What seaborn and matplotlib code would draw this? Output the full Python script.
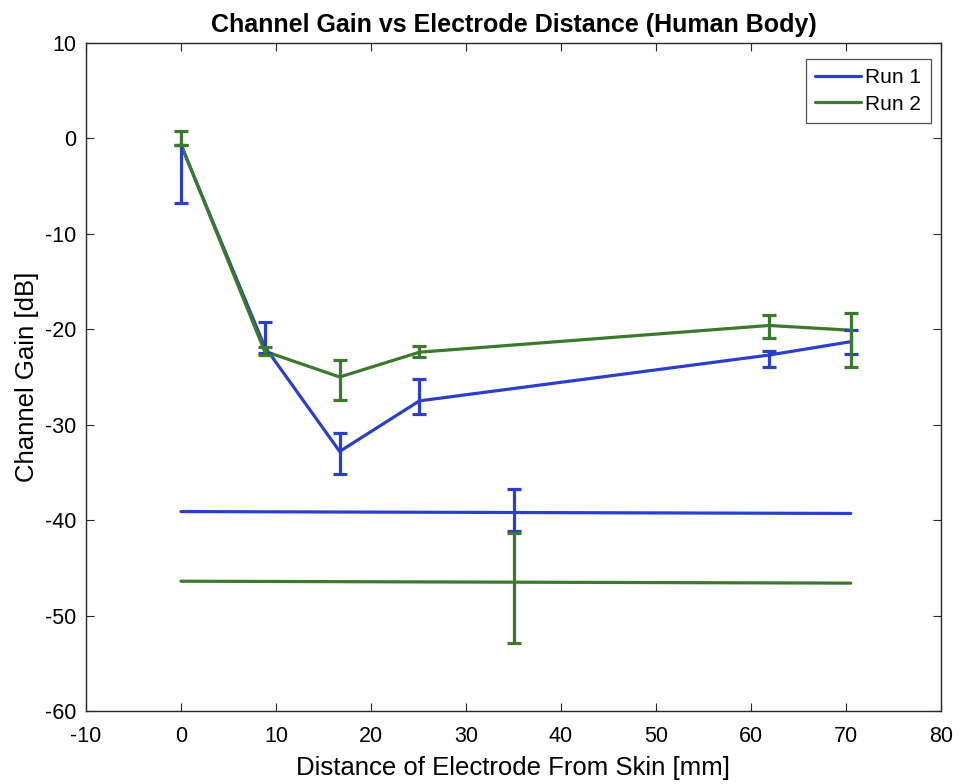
import matplotlib
matplotlib.use("Agg")
import matplotlib.pyplot as plt
import seaborn as sns
import numpy as np
import pandas as pd

# ---- data ----
distance = [0.0, 8.8, 16.7, 25.1, 61.9, 70.5]
run1_gain = [-0.7, -21.8, -32.8, -27.5, -22.7, -21.3]
run1_err_low = [6.1, 0.7, 2.4, 1.4, 1.3, 1.3]
run1_err_high = [0.0, 2.6, 1.9, 2.3, 0.4, 1.2]
run2_gain = [-0.6, -22.3, -25.0, -22.4, -19.6, -20.1]
run2_err_low = [0.1, 0.4, 2.4, 0.5, 1.3, 3.9]
run2_err_high = [1.4, 0.4, 1.8, 0.7, 1.1, 1.8]

baseline_x = [0.0, 35.1, 70.5]
baseline1 = [-39.1, -39.2, -39.3]
baseline2 = [-46.4, -46.5, -46.6]
baseline1_err_low = [0.0, 1.9, 0.0]
baseline1_err_high = [0.0, 2.5, 0.0]
baseline2_err_low = [0.0, 6.4, 0.0]
baseline2_err_high = [0.0, 5.2, 0.0]

title = "Channel Gain vs Electrode Distance (Human Body)"
xlabel = "Distance of Electrode From Skin [mm]"
ylabel = "Channel Gain [dB]"
labels = ["Run 1", "Run 2"]

blue = "#2C3FCC"
green = "#3B7A2C"

sns.set_theme(style="white")
plt.rcParams["font.family"] = ["Liberation Sans", "DejaVu Sans"]
plt.rcParams["axes.unicode_minus"] = False
plt.rcParams["text.color"] = "black"
plt.rcParams["axes.labelcolor"] = "black"

fig = plt.figure(figsize=(9.64, 7.84), dpi=100)
ax = fig.add_axes([86 / 964, 1 - 711 / 784, (941 - 86) / 964, (711 - 43) / 784])

df = pd.DataFrame({
    "x": distance * 2,
    "y": run1_gain + run2_gain,
    "run": [labels[0]] * len(distance) + [labels[1]] * len(distance),
})
sns.lineplot(data=df, x="x", y="y", hue="run", palette=[blue, green],
             linewidth=2.3, ax=ax, sort=False, estimator=None)

ekw = dict(fmt="none", elinewidth=2.3, capsize=4.8, capthick=2.3)
ax.errorbar(distance, run1_gain, yerr=[run1_err_low, run1_err_high], ecolor=blue, **ekw)
ax.errorbar(distance, run2_gain, yerr=[run2_err_low, run2_err_high], ecolor=green, **ekw)

ax.plot(baseline_x, baseline1, color=blue, linewidth=2.3)
ax.plot(baseline_x, baseline2, color=green, linewidth=2.3)
ax.errorbar(baseline_x[1:2], baseline1[1:2],
            yerr=[baseline1_err_low[1:2], baseline1_err_high[1:2]], ecolor=blue, **ekw)
ax.errorbar(baseline_x[1:2], baseline2[1:2],
            yerr=[baseline2_err_low[1:2], baseline2_err_high[1:2]], ecolor=green, **ekw)

ax.set_xlim(-10, 80)
ax.set_ylim(-60, 10)
ax.set_xticks(np.arange(-10, 81, 10))
ax.set_yticks(np.arange(-60, 11, 10))
ax.tick_params(direction="in", length=5.5, width=0.8, labelsize=15.5, colors="#262626",
               labelcolor="black", top=True, right=True, bottom=True, left=True)
ax.tick_params(axis="x", pad=10.5)
ax.tick_params(axis="y", pad=7)
for s in ax.spines.values():
    s.set_visible(True)
    s.set_color("#262626")
    s.set_linewidth(1.0)

ax.set_title(title, fontsize=18, fontweight="bold", pad=8, color="black")
ax.set_xlabel(xlabel, fontsize=18.5, labelpad=7)
ax.set_ylabel(ylabel, fontsize=18.5, labelpad=4)

leg = ax.legend(loc="upper right", bbox_to_anchor=(0.988, 0.976), borderaxespad=0,
                fontsize=15, frameon=True, fancybox=False,
                edgecolor="#262626", handlelength=2.2, handletextpad=0.2,
                borderpad=0.45, labelspacing=0.35)
leg.get_frame().set_linewidth(0.9)

fig.savefig("out.png", dpi=100)
